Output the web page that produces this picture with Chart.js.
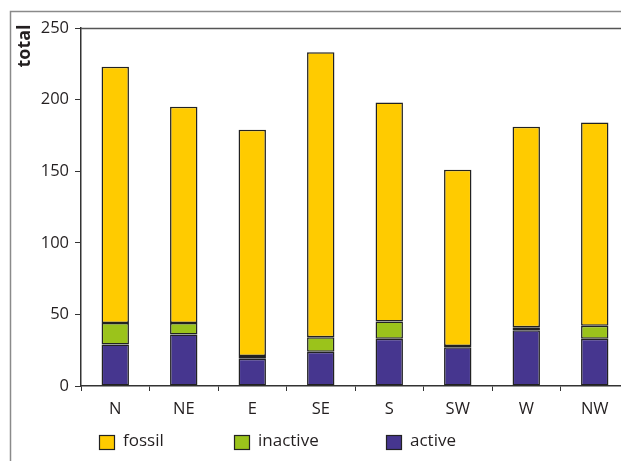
<!DOCTYPE html>
<html>
<head>
<meta charset="utf-8">
<script src="https://cdn.jsdelivr.net/npm/chart.js@4.4.1/dist/chart.umd.min.js"></script>
<style>
  html, body { margin: 0; padding: 0; background: #fff; overflow: hidden; width: 621px; height: 461px; }
  canvas { display: block; }
</style>
</head>
<body>
<canvas id="c" width="640" height="461"></canvas>
<script>
const categories = ["N", "NE", "E", "SE", "S", "SW", "W", "NW"];
const active   = [29, 36, 19, 24, 33, 27, 39, 33];
const inactive = [15,  8,  2, 10, 12,  1,  2,  9];
const fossil   = [179, 151, 158, 199, 153, 123, 140, 142];
const yTicks = [0, 50, 100, 150, 200, 250];
const yTitle = "total";

const FONT = "'Open Sans', 'Noto Sans', sans-serif";
const TXT = "#231f20";

const decor = {
  id: 'decor',
  beforeDraw(chart) {
    const ctx = chart.ctx;
    ctx.save();
    ctx.strokeStyle = '#8a8a8a';
    ctx.lineWidth = 1.5;
    ctx.beginPath();
    ctx.moveTo(10.5, 461);
    ctx.lineTo(10.5, 11.5);
    ctx.lineTo(640, 11.5);
    ctx.stroke();
    ctx.restore();
  },
  afterDraw(chart) {
    const ctx = chart.ctx;
    const a = chart.chartArea;
    ctx.save();
    ctx.strokeStyle = '#555';
    ctx.lineWidth = 1.5;
    ctx.beginPath();
    ctx.moveTo(a.left, a.top + 0.5);
    ctx.lineTo(a.right, a.top + 0.5);
    ctx.stroke();
    ctx.fillStyle = TXT;
    ctx.font = "bold 18px " + FONT;
    ctx.translate(25, 46);
    ctx.rotate(-Math.PI / 2);
    ctx.textAlign = 'center';
    ctx.textBaseline = 'middle';
    ctx.fillText(yTitle, 0, 0);
    ctx.restore();
    const items = chart.data.datasets.slice().reverse();
    const boxX = [99, 234, 386];
    ctx.save();
    ctx.font = "17px " + FONT;
    ctx.textBaseline = 'middle';
    items.forEach((ds, i) => {
      const x = boxX[i];
      ctx.fillStyle = ds.backgroundColor;
      ctx.fillRect(x, 435, 15, 14);
      ctx.strokeStyle = '#222';
      ctx.lineWidth = 1.2;
      ctx.strokeRect(x + 0.5, 435.5, 15, 14);
      ctx.fillStyle = TXT;
      ctx.fillText(ds.label, x + 24, 441);
    });
    ctx.restore();
  }
};

new Chart(document.getElementById('c'), {
  type: 'bar',
  data: {
    labels: categories,
    datasets: [
      { label: 'active', data: active, backgroundColor: '#46368f' },
      { label: 'inactive', data: inactive, backgroundColor: '#9bc31b' },
      { label: 'fossil', data: fossil, backgroundColor: '#ffcb00' }
    ].map(d => Object.assign(d, {
      borderColor: '#222', borderWidth: 1.5, borderSkipped: false,
      barPercentage: 0.4, categoryPercentage: 1.0
    }))
  },
  options: {
    responsive: false,
    animation: false,
    events: [],
    layout: { padding: { left: 0, top: 28, right: 11, bottom: 0 } },
    plugins: { legend: { display: false }, tooltip: { enabled: false } },
    scales: {
      x: {
        stacked: true,
        afterFit(s) { s.height = 75; },
        grid: { display: true, drawOnChartArea: false, offset: true, tickLength: 5, color: '#333', lineWidth: 1 },
        border: { display: true, color: '#333', width: 1.5 },
        ticks: { color: TXT, font: { family: FONT, size: 16.5 }, padding: 8 }
      },
      y: {
        stacked: true,
        min: 0, max: 250,
        afterFit(s) { s.width = 81; },
        afterBuildTicks(s) { s.ticks = yTicks.map(v => ({ value: v })); },
        grid: { display: true, drawOnChartArea: false, tickLength: 6, color: '#333', lineWidth: 1 },
        border: { display: true, color: '#333', width: 1.5 },
        ticks: { color: TXT, font: { family: FONT, size: 16.5 }, padding: 6 }
      }
    }
  },
  plugins: [decor]
});
</script>
</body>
</html>
